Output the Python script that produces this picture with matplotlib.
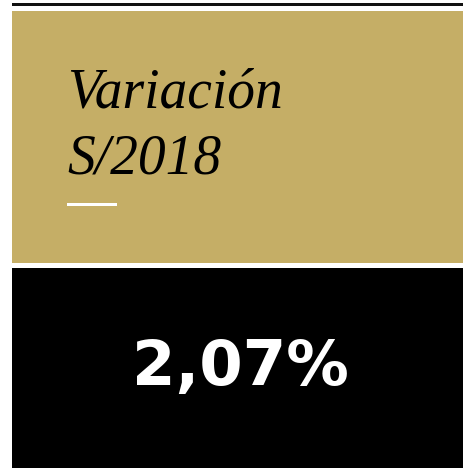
import matplotlib
matplotlib.use('Agg')
import matplotlib.pyplot as plt
from matplotlib.patches import Rectangle

# kpi card data
title_lines = ['Variación', 'S/2018']
kpi_value = 2.07
kpi_label = '{:.2f}%'.format(kpi_value).replace('.', ',')

GOLD = '#c5ae66'

fig = plt.figure(figsize=(4.64, 4.68), dpi=100)
ax = fig.add_axes((0, 0, 1, 1))
ax.set_xlim(0, 464)
ax.set_ylim(468, 0)  # pixel coords, y down
ax.axis('off')

# top rule
ax.add_patch(Rectangle((12, 3), 452, 3, color='#111111', lw=0))
# gold header box
ax.add_patch(Rectangle((12, 11), 452, 252, color=GOLD, lw=0))
# black value box
ax.add_patch(Rectangle((12, 268), 452, 200, color='black', lw=0))

# title in italic serif
for i, line in enumerate(title_lines):
    ax.text(67, 107 + i * 66, line, fontsize=40, family='Liberation Serif',
            style='italic', color='black', ha='left', va='baseline')

# small white underline
ax.add_patch(Rectangle((67, 203), 50, 2.5, color='white', lw=0))

# big number
ax.text(240, 385, kpi_label, fontsize=45, family='DejaVu Sans',
        weight='bold', color='white', ha='center', va='baseline')

fig.savefig('out.png', dpi=100)
